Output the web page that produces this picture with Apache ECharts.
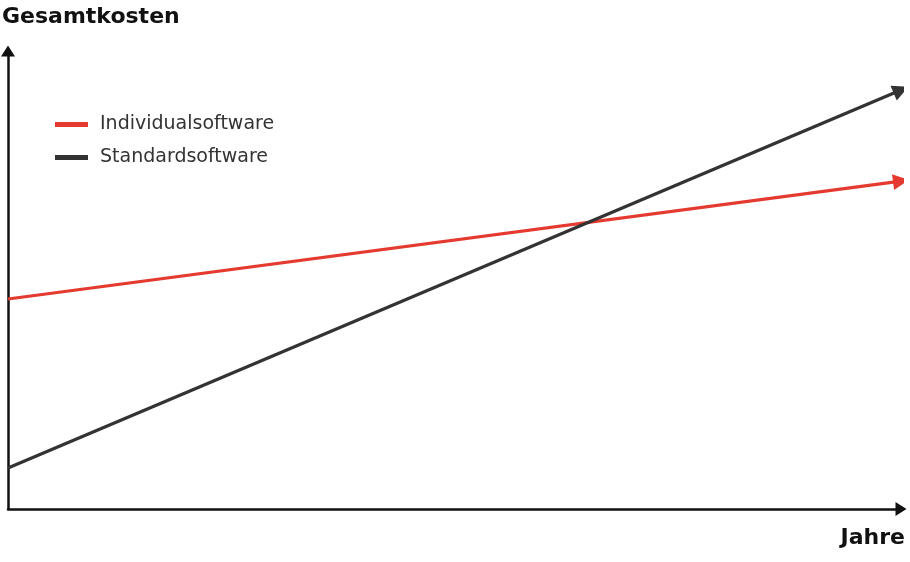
<!DOCTYPE html>
<html>
<head>
<meta charset="utf-8">
<script src="https://cdn.jsdelivr.net/npm/echarts@6/dist/echarts.min.js"></script>
<style>
  html, body { margin: 0; padding: 0; background: #fff; }
  #chart { width: 910px; height: 562px; }
</style>
</head>
<body>
<div id="chart"></div>
<script>
// series names and their start / end values (axis units 0..100)
var seriesNames = ['Individualsoftware', 'Standardsoftware'];
var seriesColors = ['#e53a30', '#333333'];
var startPoints = [[0, 45.85], [0, 8.95]];
var endPoints = [[100, 71.6], [100, 91.5]];

var axisTitleY = 'Gesamtkosten';
var axisTitleX = 'Jahre';

var font = 'DejaVu Sans';

var chart = echarts.init(document.getElementById('chart'));

var series = [];
for (var i = 0; i < seriesNames.length; i++) {
	series.push({
		name: seriesNames[i],
		type: 'lines',
		coordinateSystem: 'cartesian2d',
		symbol: ['none', 'triangle'],
		symbolSize: [16, 16],
		lineStyle: { color: seriesColors[i], width: 3.2, opacity: 1, curveness: 0 },
		itemStyle: { color: seriesColors[i] },
		data: [{ coords: [startPoints[i], endPoints[i]] }],
		z: 3
	});
}

var option = {
	animation: false,
	title: [
		{ text: axisTitleY, left: -3, top: 1, textStyle: { fontFamily: font, fontWeight: 'bold', fontSize: 22, color: '#111' } },
		{ text: axisTitleX, right: 0, top: 522, textStyle: { fontFamily: font, fontWeight: 'bold', fontSize: 22, color: '#111' } }
	],
	legend: {
		orient: 'vertical',
		left: 50,
		top: 110,
		itemWidth: 31,
		itemHeight: 3,
		itemGap: 14,
		icon: 'rect',
		data: seriesNames.map(function(n, i){
			return { name: n, itemStyle: { color: seriesColors[i] } };
		}),
		textStyle: { fontFamily: font, fontSize: 19, color: '#333', lineHeight: 19, padding: [0, 0, 0, 8] }
	},
	grid: { left: 8, right: 9, top: 51, bottom: 53, containLabel: false },
	xAxis: {
		type: 'value', min: 0, max: 100,
		axisLine: { show: true, symbol: ['none', 'triangle'], symbolSize: [14, 11], lineStyle: { color: '#111', width: 2.5 } },
		axisTick: { show: false }, axisLabel: { show: false }, splitLine: { show: false }
	},
	yAxis: {
		type: 'value', min: 0, max: 100,
		axisLine: { show: true, symbol: ['none', 'triangle'], symbolSize: [14, 11], lineStyle: { color: '#111', width: 2.5 } },
		axisTick: { show: false }, axisLabel: { show: false }, splitLine: { show: false }
	},
	series: series
};

chart.setOption(option);
</script>
</body>
</html>
